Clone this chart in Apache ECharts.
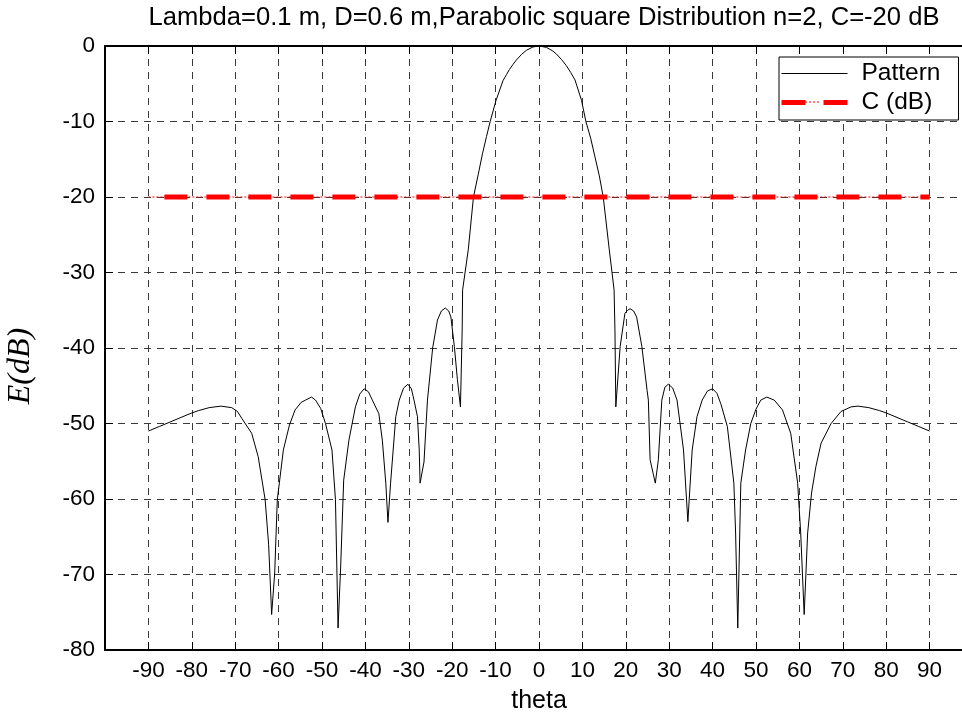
<!DOCTYPE html>
<html>
<head>
<meta charset="utf-8">
<title>Radiation pattern</title>
<script src="https://cdn.jsdelivr.net/npm/echarts@6/dist/echarts.min.js"></script>
<style>
  html, body { margin: 0; padding: 0; background: #fff; }
  #chart { width: 962px; height: 713px; }
</style>
</head>
<body>
<div id="chart"></div>
<script>
// Far-field pattern of a parabolic-squared aperture (n=2) with -20 dB edge taper.
// Each entry: [theta (deg), E (dB)]
var patternPoints = [
  [-90, -51.0], [-87.5, -50.4], [-85, -49.8], [-82.5, -49.2], [-80, -48.6], [-78.5, -48.3], [-76, -47.9],
  [-73.3, -47.7], [-70.8, -47.9], [-69.5, -48.4], [-68.5, -49.3], [-66.2, -51.3], [-64.7, -54.4], [-63.1, -60.1],
  [-62.3, -66.0], [-61.6, -75.3], [-60.9, -69.8], [-60.3, -60.1], [-58.9, -53.5], [-57.5, -50.2], [-56.2, -48.2],
  [-54.8, -47.2], [-53.8, -46.9], [-52.4, -46.5], [-51.5, -46.9], [-50.3, -48.0], [-49.2, -50.0], [-47.7, -53.5],
  [-46.9, -60.1], [-46.3, -77.1], [-45.7, -69.0], [-45.0, -57.5], [-43.8, -52.2], [-42.3, -47.8], [-41.3, -46.1],
  [-40.3, -45.4], [-39.3, -45.8], [-38.4, -46.9], [-36.9, -48.7], [-36.1, -52.2], [-35.3, -57.9], [-34.8, -63.1],
  [-34.2, -57.9], [-33.0, -49.1], [-32.2, -46.9], [-31.2, -45.3], [-30.2, -44.8], [-29.4, -45.4], [-28.8, -46.9],
  [-28.0, -49.1], [-27.6, -53.5], [-27.4, -57.9], [-26.5, -55.1], [-25.7, -46.9], [-24.5, -40.0], [-23.4, -36.3],
  [-22.5, -35.1], [-21.6, -34.7], [-20.8, -35.1], [-20.3, -35.9], [-19.5, -39.8], [-18.8, -44.2], [-18.1, -47.8],
  [-17.7, -37.6], [-17.6, -32.3], [-16.3, -27.0], [-15.1, -20.0], [-14.0, -17.0], [-13.0, -14.2], [-12.1, -12.0],
  [-11.25, -10.0], [-9.9, -7.2], [-8.3, -4.6], [-7.5, -3.8], [-6.8, -3.1], [-6.0, -2.45], [-5.2, -1.85],
  [-4.0, -1.1], [-2.9, -0.57], [-1.4, -0.13], [0, 0],
  [1.7, -0.18], [3.0, -0.6], [4.0, -1.05], [5.2, -1.8], [6.3, -2.6], [7.3, -3.5], [8.3, -4.5], [9.8, -7.2],
  [10.8, -10.0], [11.9, -12.2], [12.9, -14.7], [13.9, -17.2], [14.8, -20.0],
  [16.2, -27.0], [17.3, -32.3], [17.5, -37.6], [17.7, -47.8], [18.7, -39.8], [19.8, -35.4], [20.4, -35.0],
  [21.0, -34.8], [21.8, -35.1], [22.5, -35.9], [23.7, -39.8], [24.9, -45.6], [25.2, -46.9], [25.6, -54.8],
  [26.8, -57.9], [27.5, -54.8], [28.3, -46.9], [29.0, -45.2], [29.8, -44.8], [30.8, -45.3], [31.8, -46.9],
  [33.3, -53.5], [34.3, -63.0], [35.3, -53.5], [36.4, -49.1], [37.6, -46.9], [38.8, -45.7], [40.0, -45.4],
  [41.0, -46.0], [41.9, -47.4], [43.4, -50.4], [44.9, -57.9], [45.3, -64.5], [45.8, -77.1], [46.5, -57.9], [47.6, -53.5],
  [48.8, -50.0], [50.0, -48.1], [51.1, -46.9], [52.5, -46.5], [54.2, -46.9], [56.1, -48.2], [58.0, -51.3],
  [59.6, -57.9], [60.3, -64.5], [61.1, -75.3], [61.9, -64.5], [62.8, -59.2], [63.8, -55.7], [65.0, -52.6],
  [67.3, -50.0], [69.6, -48.4], [71.9, -47.8], [73.5, -47.7], [76, -47.9], [78.5, -48.3], [80, -48.6],
  [82.5, -49.2], [85, -49.8], [87.5, -50.4], [90, -51.0]
];

// Constant taper level drawn across the scan range
var cLevel = -20;
var cTheta = [-90, 90];

// Axis extents; the outer ticks carry no label
var thetaRange = [-100, 100];
var dbRange = [-80, 0];

var cData = cTheta.map(function (t) { return [t, cLevel]; });

var font = 'Arial, "Liberation Sans", Helvetica, sans-serif';
var gridLine = { show: true, lineStyle: { color: '#3a3a3a', width: 1, type: [7, 6] } };

var chart = echarts.init(document.getElementById('chart'), null, { renderer: 'canvas' });
chart.setOption({
  animation: false,
  backgroundColor: '#ffffff',
  title: {
    text: 'Lambda=0.1 m, D=0.6 m,Parabolic square Distribution n=2, C=-20 dB',
    left: 544,
    top: 5,
    textAlign: 'center',
    padding: 0,
    textStyle: { fontFamily: font, fontSize: 25.6, fontWeight: 'normal', color: '#000' }
  },
  legend: {
    data: [
      { name: 'Pattern', lineStyle: { width: 1, type: 'solid' } },
      { name: 'C (dB)', lineStyle: { width: 5, type: [24, 18], dashOffset: 0 } }
    ],
    orient: 'vertical',
    left: 779,
    top: 57,
    padding: [4, 18, 5, 0],
    itemWidth: 66,
    itemHeight: 14,
    itemGap: 4,
    backgroundColor: '#fff',
    borderColor: '#000',
    borderWidth: 1,
    borderRadius: 0,
    itemStyle: { opacity: 0 },
    textStyle: { fontFamily: font, fontSize: 24.5, color: '#000', padding: [0, 0, 0, 9] }
  },
  graphic: [
    // thin trace between the two dashes of the C (dB) legend sample
    { type: 'line', z: 200, shape: { x1: 801, y1: 102, x2: 820, y2: 102 },
      style: { stroke: '#ff0000', lineWidth: 1, lineDash: [2, 2] } }
  ],
  grid: { left: 105, top: 46, width: 868, height: 604, containLabel: false, outerBoundsMode: 'none' },
  xAxis: [
    {
      type: 'value', min: thetaRange[0], max: thetaRange[1], interval: 10, position: 'bottom',
      name: 'theta', nameLocation: 'middle', nameGap: 39,
      nameTextStyle: { fontFamily: font, fontSize: 25, color: '#000' },
      axisLine: { onZero: false, lineStyle: { color: '#000', width: 2 } },
      axisTick: { inside: true, length: 8, lineStyle: { color: '#000', width: 1 } },
      axisLabel: {
        fontFamily: font, fontSize: 22.5, color: '#000', margin: 9,
        formatter: function (v) { return thetaRange.indexOf(v) >= 0 ? '' : String(v); }
      },
      splitLine: gridLine
    },
    {
      type: 'value', min: thetaRange[0], max: thetaRange[1], interval: 10, position: 'top',
      axisLine: { onZero: false, lineStyle: { color: '#000', width: 2 } },
      axisTick: { inside: true, length: 8, lineStyle: { color: '#000', width: 1 } },
      axisLabel: { show: false },
      splitLine: { show: false }
    }
  ],
  yAxis: [
    {
      type: 'value', min: dbRange[0], max: dbRange[1], interval: 10, position: 'left',
      name: 'E(dB)', nameLocation: 'middle', nameGap: 68,
      nameTextStyle: { fontFamily: '"Times New Roman", "Liberation Serif", serif', fontStyle: 'italic', fontSize: 32, color: '#000', padding: [0, 36, 0, 0] },
      axisLine: { onZero: false, lineStyle: { color: '#000', width: 2 } },
      axisTick: { inside: true, length: 8, lineStyle: { color: '#000', width: 1 } },
      axisLabel: { fontFamily: font, fontSize: 22.5, color: '#000', margin: 10 },
      splitLine: gridLine
    }
  ],
  series: [
    {
      name: 'Pattern', type: 'line', data: patternPoints,
      showSymbol: false, symbol: 'none', smooth: false,
      lineStyle: { color: '#000', width: 1 }, itemStyle: { color: '#000' }, z: 3
    },
    {
      name: 'C (dB)', type: 'line', data: cData,
      showSymbol: false, symbol: 'none',
      lineStyle: { color: '#ff0000', width: 5, type: [23, 19], dashOffset: 26 },
      itemStyle: { color: '#ff0000' }, z: 4
    },
    {
      name: 'C (dB) trace', type: 'line', data: cData,
      showSymbol: false, symbol: 'none',
      lineStyle: { color: '#ff0000', width: 1, type: [2, 2] },
      itemStyle: { color: '#ff0000' }, z: 4
    }
  ]
});
</script>
</body>
</html>
